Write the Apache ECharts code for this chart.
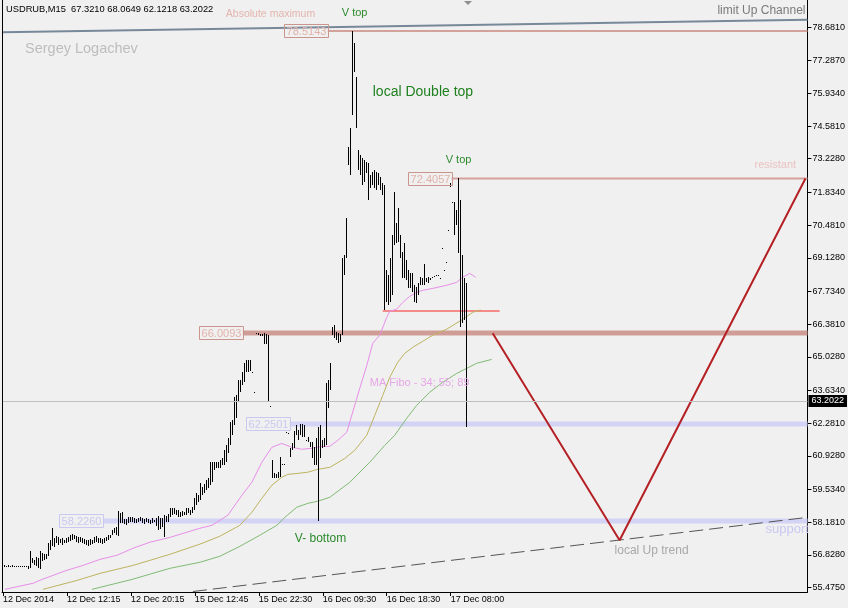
<!DOCTYPE html>
<html><head><meta charset="utf-8">
<script src="https://cdn.jsdelivr.net/npm/echarts@6/dist/echarts.min.js"></script>
<style>html,body{margin:0;padding:0;background:#f0f0f0;}#c{width:848px;height:608px;}</style>
</head><body><div id="c"></div>
<script>
// ---------------- DATA ----------------
const xTickIdx = [0, 32, 64, 96, 128, 160, 192, 224];
const xTickLabels = ['12 Dec 2014','12 Dec 12:15','12 Dec 20:15','15 Dec 12:45','15 Dec 22:30','16 Dec 09:30','16 Dec 18:30','17 Dec 08:00'];
const yTickLabels = [55.4750,56.8280,58.1810,59.5340,60.9280,62.2810,63.6340,65.0280,66.3810,67.7340,69.1280,70.4810,71.8340,73.2280,74.5810,75.9340,77.2870,78.6810];

// M15 bars, first bar at index 1
const barHigh = [56.40,56.35,56.40,56.35,56.40,56.36,56.36,56.35,56.36,56.36,56.35,56.35,56.35,56.97,56.69,56.60,56.73,56.69,56.97,56.89,
56.85,56.85,57.31,57.43,57.93,57.51,57.60,57.55,57.47,57.51,57.43,57.51,57.55,57.64,57.68,57.64,57.60,57.55,57.55,57.51,
57.47,57.43,57.43,57.47,57.43,57.55,57.60,57.51,57.51,57.47,57.51,57.55,57.64,57.64,57.84,57.93,57.97,58.63,58.55,58.59,
58.30,58.30,58.38,58.38,58.38,58.34,58.30,58.34,58.38,58.34,58.30,58.34,58.30,58.26,58.34,58.26,58.34,58.42,58.34,58.34,
58.47,58.42,58.51,58.76,58.76,58.76,58.67,58.67,58.59,58.63,58.59,58.76,58.76,58.67,58.80,59.17,59.38,59.29,59.79,59.62,
59.75,59.91,60.00,60.66,60.66,60.66,60.66,60.66,60.74,60.82,61.16,61.36,61.65,62.32,62.40,63.35,63.43,64.05,64.05,64.39,
64.76,64.88,64.88,64.88,64.41,63.58,66.00,66.00,65.96,65.96,66.00,65.96,65.92,63.00,60.74,60.20,60.16,60.25,60.87,60.60,
60.60,61.92,61.88,61.24,61.45,61.94,62.19,61.98,62.23,62.23,62.19,61.59,61.69,61.49,61.49,61.28,61.65,62.11,62.19,61.57,
61.65,63.93,64.05,64.76,66.25,66.33,66.04,66.00,65.96,69.10,69.23,70.76,73.70,74.49,78.51,78.01,76.60,73.58,73.37,73.25,
73.16,73.08,73.04,72.54,72.67,72.75,72.67,72.62,72.46,72.21,72.13,68.61,68.40,69.10,70.06,71.84,70.55,71.17,70.06,69.35,
69.73,69.02,68.61,68.48,68.48,67.99,67.90,68.07,68.32,68.28,68.86,68.28,68.32,68.28,68.34,68.38,68.42,68.42,68.30,69.54,
68.63,68.96,70.28,72.21,71.44,71.42,71.09,72.41,71.51,69.23,68.28,68.0649];
const barLow = [56.31,56.35,56.31,56.35,56.31,56.35,56.35,56.34,56.35,56.35,56.34,56.33,56.23,56.27,56.48,56.40,56.35,56.27,56.23,56.56,
56.60,56.64,56.77,57.02,57.18,57.14,57.31,57.22,57.31,57.22,57.31,57.31,57.35,57.39,57.43,57.47,57.35,57.31,57.35,57.31,
57.26,57.22,57.18,57.22,57.26,57.31,57.35,57.31,57.31,57.26,57.31,57.39,57.43,57.51,57.64,57.72,57.64,57.60,58.13,58.13,
58.09,58.05,58.13,58.18,58.18,58.13,58.13,58.18,58.22,58.13,58.09,58.18,58.13,58.09,58.13,58.18,58.01,57.84,57.89,57.97,
57.55,58.18,58.18,58.38,58.47,58.51,58.47,58.38,58.38,58.42,58.47,58.47,58.55,58.47,58.55,58.67,58.88,59.00,59.09,59.29,
59.38,59.50,59.58,59.71,59.83,60.33,60.41,60.41,60.41,60.54,60.54,60.66,61.03,61.36,61.78,62.19,62.48,63.14,63.56,63.85,
63.97,64.39,64.39,64.43,64.37,63.54,65.96,65.92,65.88,65.88,65.54,65.54,63.19,62.96,60.00,60.00,60.00,60.00,60.04,60.56,
60.56,61.88,61.84,60.87,61.16,61.24,61.78,61.57,61.78,61.69,61.69,61.55,61.49,61.28,60.82,60.54,60.54,58.22,60.82,61.24,
61.28,61.36,62.90,63.65,65.92,65.79,65.71,65.59,65.63,65.92,68.40,69.10,72.95,72.54,75.02,76.80,74.49,72.75,72.54,72.13,
72.25,72.62,71.51,72.00,72.13,72.00,71.92,72.13,71.92,71.71,66.95,67.28,67.16,67.28,67.57,69.64,69.73,69.77,69.10,68.28,
68.28,68.19,67.86,67.86,67.70,67.28,67.24,67.57,67.99,67.99,67.99,68.11,68.07,68.19,68.30,68.34,68.38,68.38,68.26,69.50,
68.59,68.92,70.24,72.04,71.40,70.06,70.47,69.31,66.25,66.41,66.54,62.1218];

// Moving averages (MA Fibo 34 / 55 / 89), [bar index, price]
const ma34 = [[1,55.40],[15,55.65],[19.5,55.81],[32,56.19],[40,56.39],[48.5,56.64],[57,56.81],[65,57.10],[73.5,57.35],[83.5,57.55],[98.5,57.93],[104.5,58.05],[112.5,58.47],[119.5,59.29],[124.5,59.83],[129.5,60.66],[134.5,61.28],[139.5,61.44],[144.5,61.28],[149.5,61.20],[154.5,61.24],[159.5,61.32],[163.5,61.32],[167.5,61.57],[172,61.90],[177,63.31],[182,64.67],[185,65.59],[188.5,65.92],[192,66.66],[193.5,66.91],[197,67.00],[200,67.28],[203.5,67.53],[207,67.70],[210,67.78],[215,67.86],[222,67.99],[227,68.11],[230,68.32],[233.5,68.48],[236.5,68.32]];
const ma55 = [[20,55.40],[37,55.77],[48.5,56.06],[65,56.39],[73.5,56.60],[83.5,56.85],[98.5,57.27],[108.5,57.60],[118.5,58.05],[124.5,58.59],[129.5,59.17],[134.5,59.71],[139.5,60.04],[142.5,60.16],[147.5,60.20],[152.5,60.25],[157.5,60.37],[163.5,60.45],[171,60.82],[176,61.16],[182,61.78],[186,62.60],[190,63.43],[193.5,64.18],[197.5,64.80],[201,65.17],[205,65.42],[210,65.67],[215,65.92],[222,66.17],[230,66.58],[235,66.87],[239,66.97]];
const ma89 = [[44.5,55.40],[64.5,55.81],[83.5,56.27],[98.5,56.52],[108.5,56.77],[118.5,57.18],[128.5,57.64],[137,58.05],[141,58.38],[147,58.80],[152.5,58.96],[157.5,59.05],[163.5,59.21],[173.5,59.83],[183.5,60.66],[191,61.36],[196,61.78],[202,62.48],[207,63.02],[213.5,63.56],[220,63.97],[227,64.34],[232,64.55],[237,64.76],[244.5,64.92]];

// Horizontal price levels and where (bar index) each object starts
const levelVals  = [78.5143, 72.4057, 66.0093, 62.2501, 58.2260];
const levelStart = [162.5, 224.5, 120, 143.5, 50];
const localLevel = [[190, 66.92], [248.5, 66.92]];
const lastClose = 63.2022;
const header = 'USDRUB,M15  67.3210 68.0649 62.1218 63.2022';

// Trend lines
const channelLine = [[-0.5, 78.46], [402.5, 78.98]];
const upTrendLine = [[95, 55.31], [402.5, 58.38]];
const vPath = [[245, 66.00], [308.5, 57.43], [401.5, 72.41]];

// Text notes and their anchors [bar index, price]
const noteTexts = ['Absolute maximum','V top','local Double top','V top','resistant','MA Fibo - 34; 55; 89','V- bottom','support','local Up trend','limit Up Channel'];
const noteAt = [[111.5,79.21],[169.5,79.25],[185,75.98],[221.5,73.16],[376,72.99],[183.5,63.93],[146,57.51],[381.5,57.89],[306,57.02],[401.5,79.37]];

// ---------------- CHART ----------------
const FONT = "'Liberation Sans', Arial, sans-serif";
const X_END = 402.5;
const bars = barHigh.map((h, k) => [k + 1, barLow[k], h]);

const levelStyle = [
  {line: {color: '#d3a29a', width: 2}, box: '#c9958d', txt: '#e2b2aa'},
  {line: {color: '#d3a29a', width: 2}, box: '#c9958d', txt: '#e2b2aa'},
  {line: {color: '#cf9d95', width: 5}, box: '#c9958d', txt: '#e2b2aa'},
  {line: {color: '#d3d3f6', width: 5}, box: '#c8c8f0', txt: '#c8c8f0'},
  {line: {color: '#d3d3f6', width: 5}, box: '#c8c8f0', txt: '#c8c8f0'}
];
const noteStyle = [
  {c:'#e3b5ad', s:10.5}, {c:'#2b8a2b', s:11}, {c:'#1f801f', s:14}, {c:'#2b8a2b', s:11},
  {c:'#ebc3c3', s:11}, {c:'#e6a6e6', s:11}, {c:'#2b8a2b', s:12}, {c:'#c8c8f2', s:13},
  {c:'#a8a8a8', s:12}, {c:'#7a7a7a', s:12, a:'right'}
];

function lineSeries(data, lineStyle, z, extra) {
  return Object.assign({type: 'line', data: data, symbol: 'none', silent: true, z: z,
    lineStyle: lineStyle, animation: false}, extra || {});
}

const series = [];
series.push(lineSeries(channelLine, {color: '#778899', width: 2}, 1, {
  markLine: {silent: true, symbol: 'none', animation: false,
    data: [{yAxis: lastClose}],
    lineStyle: {color: '#c0c0c0', type: 'solid', width: 1},
    label: {position: 'end', formatter: lastClose.toFixed(4), backgroundColor: '#000', color: '#fff',
      padding: [2, 3, 1, 3], distance: 1, fontSize: 9, fontFamily: FONT}}
}));
levelVals.forEach((v, k) => {
  series.push(lineSeries([[levelStart[k], v], [X_END, v]], levelStyle[k].line, 1));
});
series.push(lineSeries(localLevel, {color: '#f48a8a', width: 2}, 1));
series.push(lineSeries(upTrendLine, {color: '#555555', width: 1, type: [14, 6]}, 1));
series.push(lineSeries(vPath, {color: '#b52025', width: 2}, 1));
series.push(lineSeries(ma34, {color: '#e88ee8', width: 1}, 2));
series.push(lineSeries(ma55, {color: '#bdb45e', width: 1}, 2));
series.push(lineSeries(ma89, {color: '#80bb74', width: 1}, 2));

series.push({
  type: 'custom', z: 3, silent: true, animation: false, clip: true,
  data: bars, encode: {x: 0, y: [1, 2]},
  renderItem: (params, api) => {
    const i = api.value(0), lo = api.value(1), hi = api.value(2);
    const a = api.coord([i, hi]), b = api.coord([i, lo]);
    const top = Math.round(a[1]);
    const h = Math.max(1, Math.round(b[1]) - top);
    return {type: 'rect', shape: {x: Math.round(a[0] - 0.5), y: top, width: 1, height: h}, style: {fill: '#000'}};
  }
});

series.push({
  type: 'custom', z: 4, silent: true, animation: false,
  data: levelVals.map((v, k) => [levelStart[k], v, k]),
  renderItem: (params, api) => {
    const k = api.value(2);
    const p = api.coord([api.value(0), api.value(1)]);
    const w = 44, x0 = Math.round(p[0]) - w, y0 = Math.round(p[1]) - 7;
    return {type: 'group', children: [
      {type: 'rect', shape: {x: x0 + 0.5, y: y0 + 0.5, width: w, height: 13},
        style: {fill: 'none', stroke: levelStyle[k].box, lineWidth: 1}},
      {type: 'text', style: {text: levelVals[k].toFixed(4), x: x0 + w / 2 + 0.5, y: y0 + 7.5,
        align: 'center', verticalAlign: 'middle', fill: levelStyle[k].txt, fontSize: 11, fontFamily: FONT}}
    ]};
  }
});

series.push({
  type: 'custom', z: 5, silent: true, animation: false, clip: true,
  data: noteAt.map((p, k) => [p[0], p[1], k]),
  renderItem: (params, api) => {
    const k = api.value(2);
    const p = api.coord([api.value(0), api.value(1)]);
    const st = noteStyle[k];
    return {type: 'text', style: {text: noteTexts[k], x: p[0], y: p[1], align: st.a || 'left',
      verticalAlign: 'middle', fill: st.c, fontSize: st.s, fontFamily: FONT}};
  }
});

const option = {
  backgroundColor: '#f0f0f0',
  animation: false,
  grid: {left: 2, right: 40, top: 0, bottom: 16},
  xAxis: {
    type: 'value', min: -0.5, max: X_END,
    axisLine: {show: true, onZero: false, lineStyle: {color: '#000', width: 1}},
    axisTick: {show: true, customValues: xTickIdx, length: 4, lineStyle: {color: '#000'}},
    axisLabel: {show: true, customValues: xTickIdx, align: 'left', margin: 3, color: '#000', fontSize: 9, fontFamily: FONT,
      formatter: v => xTickLabels[xTickIdx.indexOf(Math.round(v))] || ''},
    splitLine: {show: false}
  },
  yAxis: {
    type: 'value', position: 'right', min: 55.29, max: 79.80,
    axisLine: {show: true, onZero: false, lineStyle: {color: '#000', width: 1}},
    axisTick: {show: true, customValues: yTickLabels, length: 4, lineStyle: {color: '#000'}},
    axisLabel: {show: true, customValues: yTickLabels, margin: 5, color: '#000', fontSize: 9, fontFamily: FONT,
      formatter: v => v.toFixed(4)},
    splitLine: {show: false}
  },
  graphic: [
    {type: 'line', z: 10, shape: {x1: 2.5, y1: 0, x2: 2.5, y2: 592}, style: {stroke: '#000', lineWidth: 1}},
    {type: 'text', left: 6, top: 5, z: 10, style: {text: header, fill: '#000', fontSize: 9.3, fontFamily: FONT}},
    {type: 'text', left: 25, top: 41, z: 10, style: {text: 'Sergey Logachev', fill: '#bdbdbd', fontSize: 14.5, fontFamily: FONT}},
    {type: 'polygon', z: 10, shape: {points: [[464, 1], [472, 1], [468, 5]]}, style: {fill: '#909090'}}
  ],
  series: series
};

const chart = echarts.init(document.getElementById('c'), null, {renderer: 'canvas'});
chart.setOption(option);
</script></body></html>
